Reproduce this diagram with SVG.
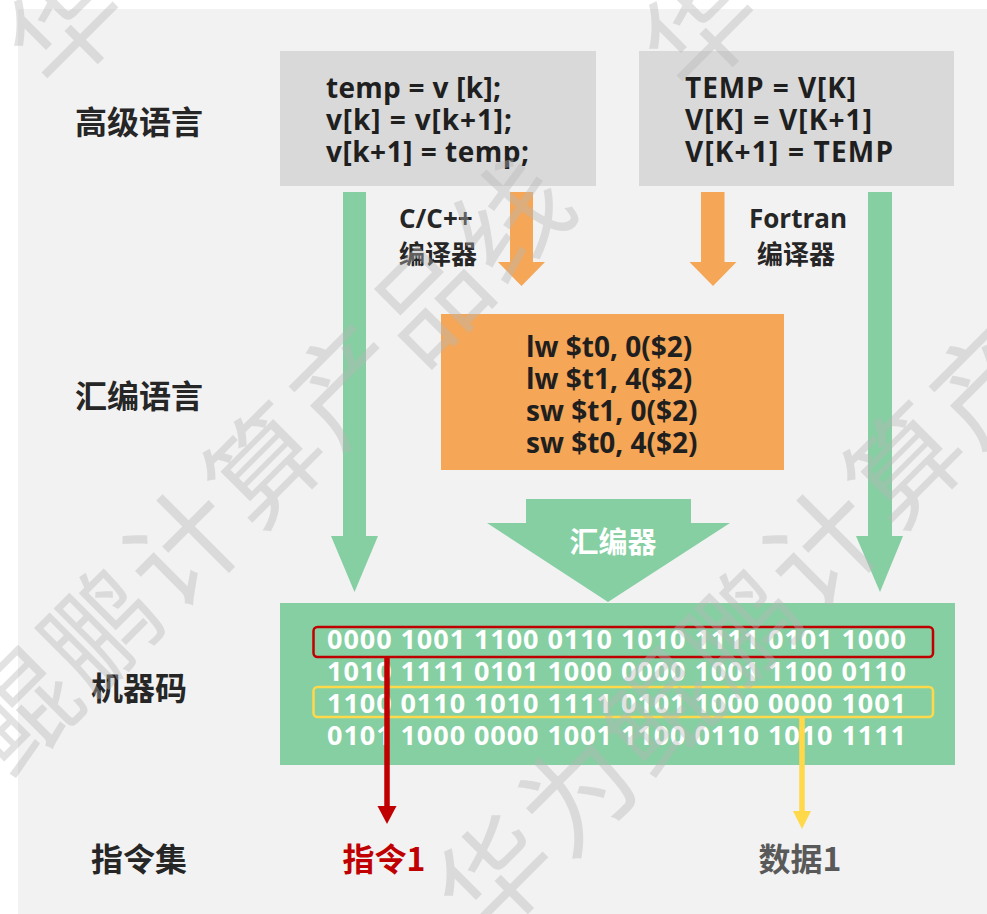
<svg xmlns="http://www.w3.org/2000/svg" width="987" height="914" viewBox="0 0 987 914">
<defs>
<style>
.code{font-family:"Open Sans","Noto Sans","Liberation Sans",sans-serif;font-weight:700;font-size:28px;fill:#1f1f1f}
.bin{font-family:"Open Sans","Noto Sans","Liberation Sans",sans-serif;font-weight:700;font-size:27px;fill:#ffffff}
.lbl{font-family:"Noto Sans CJK SC","Noto Sans",sans-serif;font-weight:700;font-size:32px;fill:#262626;text-anchor:middle}
.sm{font-family:"Open Sans","Noto Sans CJK SC",sans-serif;font-weight:700;font-size:26px;fill:#262626}
.smc{font-family:"Noto Sans CJK SC",sans-serif;font-weight:700;font-size:26px;fill:#262626}
.green{fill:#85cfa2}
.orange{fill:#f5a656}
.gray{fill:#d9d9d9}
.wm{font-family:"Noto Sans CJK SC",sans-serif;font-weight:400;font-size:112px;fill:#b8b8b8;opacity:0.4;text-anchor:middle}
</style>
</defs>
<rect x="0" y="0" width="987" height="914" fill="#ffffff"/>
<rect x="18" y="9" width="969" height="905" fill="#f2f2f2"/>

<g id="row-labels">
<text class="lbl" x="139" y="134">高级语言</text>
<text class="lbl" x="139" y="408">汇编语言</text>
<text class="lbl" x="139" y="700">机器码</text>
<text class="lbl" x="139" y="871">指令集</text>
</g>

<g id="c-source">
<rect class="gray" x="280" y="51" width="316" height="135"/>
<text class="code" x="326" y="98" textLength="175" lengthAdjust="spacing">temp = v [k];</text>
<text class="code" x="326" y="130" textLength="186" lengthAdjust="spacing">v[k] = v[k+1];</text>
<text class="code" x="326" y="162" textLength="203" lengthAdjust="spacing">v[k+1] = temp;</text>
</g>

<g id="fortran-source">
<rect class="gray" x="639" y="51" width="315" height="135"/>
<text class="code" x="685" y="98" textLength="171" lengthAdjust="spacing">TEMP = V[K]</text>
<text class="code" x="685" y="130" textLength="187" lengthAdjust="spacing">V[K] = V[K+1]</text>
<text class="code" x="685" y="162" textLength="208" lengthAdjust="spacing">V[K+1] = TEMP</text>
</g>

<g id="c-compiler-label">
<text class="sm" x="399" y="228">C/C++</text>
<text class="smc" x="399" y="264">编译器</text>
</g>

<g id="fortran-compiler-label">
<text class="sm" x="749" y="228">Fortran</text>
<text class="smc" x="757" y="264">编译器</text>
</g>

<g id="assembly">
<rect class="orange" x="441" y="314" width="343" height="156"/>
<text class="code" x="526" y="357">lw $t0, 0($2)</text>
<text class="code" x="526" y="389">lw $t1, 4($2)</text>
<text class="code" x="526" y="421">sw $t1, 0($2)</text>
<text class="code" x="526" y="453">sw $t0, 4($2)</text>
</g>

<g id="machine-code">
<rect class="green" x="280" y="603" width="675" height="162"/>
<text class="bin" x="327" y="649" textLength="579" lengthAdjust="spacing">0000 1001 1100 0110 1010 1111 0101 1000</text>
<text class="bin" x="327" y="681" textLength="579" lengthAdjust="spacing">1010 1111 0101 1000 0000 1001 1100 0110</text>
<text class="bin" x="327" y="713" textLength="579" lengthAdjust="spacing">1100 0110 1010 1111 0101 1000 0000 1001</text>
<text class="bin" x="327" y="745" textLength="579" lengthAdjust="spacing">0101 1000 0000 1001 1100 0110 1010 1111</text>
<rect x="313.5" y="627" width="619.5" height="30" rx="4" fill="none" stroke="#c00000" stroke-width="2.5"/>
<rect x="313.5" y="687" width="619.5" height="30" rx="4" fill="none" stroke="#ffd94a" stroke-width="2.5"/>
</g>

<g id="connectors">
<polygon class="green" points="343,192 366,192 366,536 378,536 354.5,592 331,536 343,536"/>
<polygon class="green" points="868,192 892,192 892,536 903,536 880,592 856,536 868,536"/>
<polygon class="orange" points="510,192 533,192 533,262 545,262 521.5,286 498,262 510,262"/>
<polygon class="orange" points="701,192 724.5,192 724.5,262 736.5,262 713,286 689.5,262 701,262"/>
<polygon class="green" points="526,499 691,499 691,523 730,523 608,602 487,523 526,523"/>
<line x1="387" y1="657" x2="387" y2="808" stroke="#c00000" stroke-width="5.5"/>
<polygon points="377.5,806 396.5,806 387,824" fill="#c00000"/>
<line x1="802" y1="717" x2="802" y2="813" stroke="#ffd94a" stroke-width="5.5"/>
<polygon points="793,811 811,811 802,829" fill="#ffd94a"/>
</g>

<g id="assembler-label">
<text x="613" y="553" text-anchor="middle" style="font-family:'Noto Sans CJK SC',sans-serif;font-weight:700;font-size:29px;fill:#ffffff">汇编器</text>
</g>

<g id="instruction-1">
<text class="lbl" x="384" y="871" style="fill:#c00000">指令1</text>
</g>

<g id="data-1">
<text class="lbl" x="800" y="871" style="fill:#595959">数据1</text>
</g>

<g id="watermark">
<text class="wm" transform="translate(-63,793) rotate(-45)" y="42">为</text>
<text class="wm" transform="translate(19,711) rotate(-45)" y="42">鲲</text>
<text class="wm" transform="translate(101,629) rotate(-45)" y="42">鹏</text>
<text class="wm" transform="translate(183,547) rotate(-45)" y="42">计</text>
<text class="wm" transform="translate(265,465) rotate(-45)" y="42">算</text>
<text class="wm" transform="translate(347,383) rotate(-45)" y="42">产</text>
<text class="wm" transform="translate(429,301) rotate(-45)" y="42">品</text>
<text class="wm" transform="translate(511,219) rotate(-45)" y="42">线</text>
<text class="wm" transform="translate(495,875) rotate(-45)" y="42">华</text>
<text class="wm" transform="translate(577,793) rotate(-45)" y="42">为</text>
<text class="wm" transform="translate(659,711) rotate(-45)" y="42">鲲</text>
<text class="wm" transform="translate(741,629) rotate(-45)" y="42">鹏</text>
<text class="wm" transform="translate(823,547) rotate(-45)" y="42">计</text>
<text class="wm" transform="translate(905,465) rotate(-45)" y="42">算</text>
<text class="wm" transform="translate(987,383) rotate(-45)" y="42">产</text>
<text class="wm" transform="translate(65,25) rotate(-45)" y="42">华</text>
<text class="wm" transform="translate(700,28) rotate(-45)" y="42">华</text>
</g>
</svg>
